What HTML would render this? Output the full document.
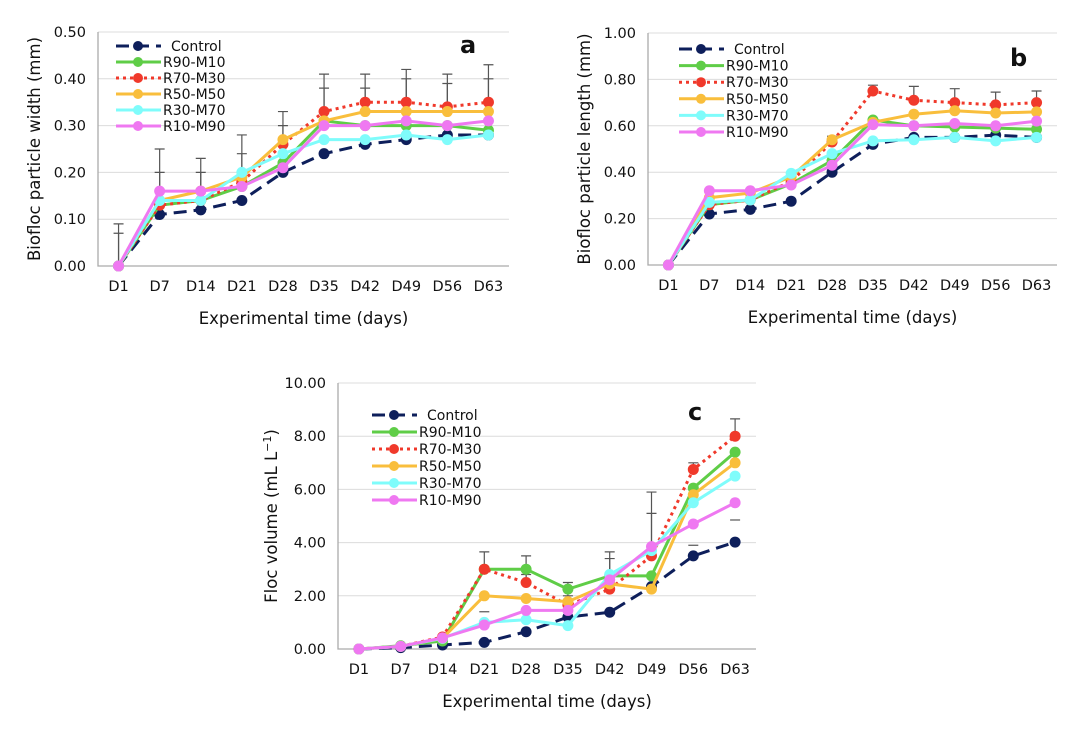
<!DOCTYPE html>
<html><head><meta charset="utf-8"><style>
body{margin:0;background:#fff;}
svg text{font-family:"DejaVu Sans","Liberation Sans",sans-serif;fill:#111;}
</style></head><body>
<svg id="s" width="1092" height="734" viewBox="0 0 1092 734"></svg>
<script>
const categories=["D1","D7","D14","D21","D28","D35","D42","D49","D56","D63"];
const seriesNames=["Control","R90-M10","R70-M30","R50-M50","R30-M70","R10-M90"];
const aControl=[0,.11,.12,.14,.20,.24,.26,.27,.28,.28];
const aR90=[0,.13,.14,.17,.22,.31,.30,.30,.30,.29];
const aR70=[0,.13,.14,.18,.26,.33,.35,.35,.34,.35];
const aR50=[0,.14,.16,.19,.27,.31,.33,.33,.33,.33];
const aR30=[0,.14,.14,.20,.24,.27,.27,.28,.27,.28];
const aR10=[0,.16,.16,.17,.21,.30,.30,.31,.30,.31];
const aErrTop=[.09,.25,.23,.28,.33,.41,.41,.42,.41,.43];
const aErrMid=[.07,.20,.20,.24,.30,.38,.38,.40,.39,.40];
const bControl=[0,.22,.24,.275,.40,.52,.55,.55,.56,.55];
const bR90=[0,.26,.28,.35,.45,.625,.60,.595,.59,.585];
const bR70=[0,.26,.28,.36,.53,.75,.71,.70,.69,.70];
const bR50=[0,.29,.31,.38,.54,.615,.65,.665,.655,.66];
const bR30=[0,.27,.28,.395,.48,.535,.54,.55,.535,.55];
const bR10=[0,.32,.32,.345,.43,.605,.60,.61,.60,.62];
const bErrTop=[0,0,0,0,.555,.775,.77,.76,.745,.75];
const cControl=[0,.05,.15,.25,.65,1.2,1.38,2.35,3.5,4.02];
const cR90=[0,.12,.3,3.0,3.0,2.25,2.75,2.75,6.05,7.4];
const cR70=[0,.1,.45,3.0,2.5,1.65,2.25,3.5,6.75,8.0];
const cR50=[0,.1,.4,2.0,1.9,1.78,2.45,2.25,5.8,7.0];
const cR30=[0,.1,.4,1.0,1.1,.88,2.8,3.7,5.5,6.5];
const cR10=[0,.1,.42,.9,1.45,1.45,2.6,3.85,4.7,5.5];
const cErrTop=[0,0,0,3.65,3.5,2.5,3.65,5.9,7.0,8.65];
const cErrMid=[0,0,0,1.4,2.8,2.0,3.4,5.1,3.9,4.85];
const aTicks=["0.00","0.10","0.20","0.30","0.40","0.50"];
const bTicks=["0.00","0.20","0.40","0.60","0.80","1.00"];
const cTicks=["0.00","2.00","4.00","6.00","8.00","10.00"];
const colors=["#0e1f5b","#5fcd47","#f0392b","#f9be3c","#7ffcfb","#ef78f1"];
const dashes=["13,7",null,"3,4",null,null,null];
const NS="http://www.w3.org/2000/svg";
const svg=document.getElementById('s');
function mk(tag,at,parent){const e=document.createElementNS(NS,tag);for(const k in at)e.setAttribute(k,at[k]);(parent||svg).appendChild(e);return e;}
function chart(cfg){
  const g=mk('g',{});
  
  
  const L=cfg.left,R=cfg.right,T=cfg.top,B=cfg.bottom,max=cfg.max;
  const bw=(R-L)/categories.length;
  const x=i=>L+bw*(i+0.5);
  const y=v=>B-(v/max)*(B-T);
  cfg.ticks.forEach((t,i)=>{
    const v=max*i/(cfg.ticks.length-1),yy=y(v);
    if(i>0){const gl=mk('line',{x1:L,x2:R,y1:yy,y2:yy,stroke:'#dcdcdc','stroke-width':1},g);
    }
    const tx=mk('text',{x:L-12,y:yy+5,'text-anchor':'end','font-size':14.5},g);tx.textContent=t;
    
  });
  const ax=mk('path',{d:`M${L},${T}V${B}H${R}`,fill:'none',stroke:'#aaa','stroke-width':1.3},g);
  
  categories.forEach((c,i)=>{const t=mk('text',{x:x(i),y:B+25,'text-anchor':'middle','font-size':14.5},g);t.textContent=c;
    });
  const xt=mk('text',{x:(L+R)/2,y:B+58,'text-anchor':'middle','font-size':16.5},g);xt.textContent="Experimental time (days)";
  
  const yc=(T+B)/2;
  const yt=mk('text',{x:cfg.ytx,y:yc,'text-anchor':'middle','font-size':16.5,transform:`rotate(-90 ${cfg.ytx} ${yc})`},g);
  yt.innerHTML=cfg.ytitle;
  
  cfg.errs.forEach(err=>{err.forEach((v,i)=>{if(!v)return;
    const base=cfg.series[2][i];
    const e=mk('path',{d:`M${x(i)},${y(Math.min(base,v))}V${y(v)}M${x(i)-5},${y(v)}h10`,stroke:'#555','stroke-width':1.2,fill:'none'},g);
    });});
  cfg.series.forEach((s,k)=>{
    const pts=s.map((v,i)=>`${x(i)},${y(v)}`).join(' ');
    const at={points:pts,fill:'none',stroke:colors[k],'stroke-width':3};
    if(dashes[k])at['stroke-dasharray']=dashes[k];
    const pl=mk('polyline',at,g);
    
    s.forEach((v,i)=>{const c=mk('circle',{cx:x(i),cy:y(v),r:5.5,fill:colors[k]},g);
      });
  });
  seriesNames.forEach((n,k)=>{
    const ly=cfg.legY+k*cfg.legDy;
    const at={x1:cfg.legX,x2:cfg.legX+45,y1:ly,y2:ly,stroke:colors[k],'stroke-width':3};
    if(dashes[k])at['stroke-dasharray']=dashes[k];
    const ll=mk('line',at,g);
    const lc=mk('circle',{cx:cfg.legX+22,cy:ly,r:5,fill:colors[k]},g);
    
    const lt=mk('text',{x:cfg.legX+(k==0?55:47),y:ly+5,'font-size':14},g);lt.textContent=n;
    
  });
  const pl=mk('text',{x:cfg.lblX,y:cfg.lblY,'font-size':24,'font-weight':'bold'},g);pl.textContent=cfg.label;
  
}
chart({name:'chart-a',left:98,right:509,top:32,bottom:266,max:0.5,ticks:aTicks,ytx:40,ytitle:'Biofloc particle width (mm)',
  series:[aControl,aR90,aR70,aR50,aR30,aR10],errs:[aErrTop,aErrMid],legX:116,legY:46,legDy:16,label:'a',lblX:460,lblY:53});
chart({name:'chart-b',left:648,right:1057,top:33,bottom:265,max:1,ticks:bTicks,ytx:590,ytitle:'Biofloc particle length (mm)',
  series:[bControl,bR90,bR70,bR50,bR30,bR10],errs:[bErrTop],legX:679,legY:49,legDy:16.6,label:'b',lblX:1010,lblY:66});
chart({name:'chart-c',left:338,right:756,top:383,bottom:649,max:10,ticks:cTicks,ytx:277,ytitle:'Floc volume (mL L<tspan baseline-shift="super" font-size="11">−1</tspan>)',
  series:[cControl,cR90,cR70,cR50,cR30,cR10],errs:[cErrTop,cErrMid],legX:372,legY:415,legDy:17,label:'c',lblX:688,lblY:420});
</script>
</body></html>
